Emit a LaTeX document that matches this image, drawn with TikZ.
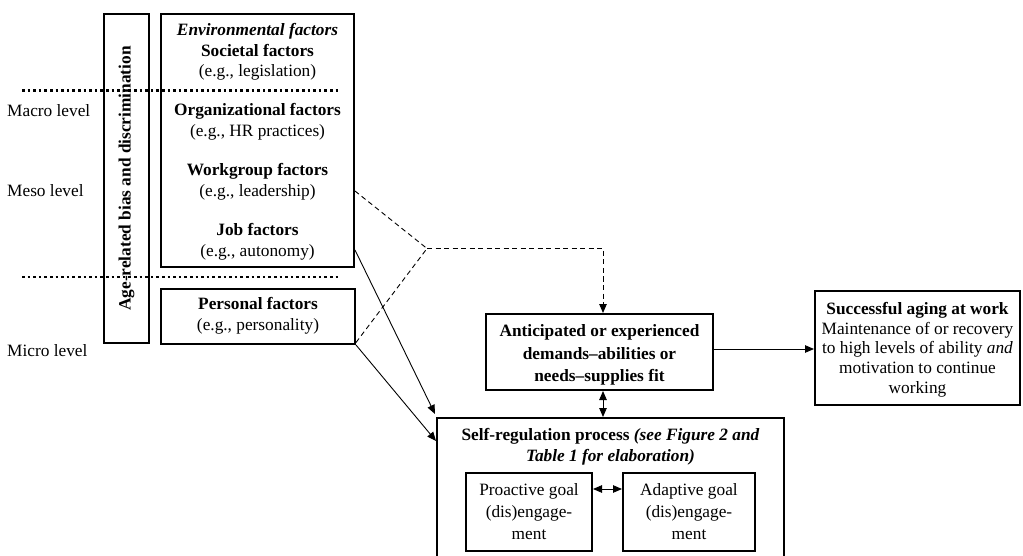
\documentclass[tikz,border=0pt]{standalone}
\usepackage{fontspec}
\setmainfont{Liberation Serif}
\usetikzlibrary{arrows.meta,calc}
\newcommand\myfs{\fontsize{17.3}{20.5}\selectfont}
\begin{document}
\begin{tikzpicture}[x=1pt,y=-1pt,
  box/.style={draw,line width=2pt,inner sep=0pt},
  txt/.style={align=center,font=\myfs,inner sep=0pt},
  lvl/.style={anchor=west,font=\myfs,inner sep=0pt},
  conn/.style={line width=0.9pt},
  tip/.style={-{Triangle[length=9pt,width=7.5pt]}},
  dtip/.style={{Triangle[length=9pt,width=7.5pt]}-{Triangle[length=9pt,width=7.5pt]}},
  dashline/.style={line width=0.9pt,dash pattern=on 5pt off 3.5pt},
  dotline/.style={line width=2.4pt,dash pattern=on 2.6pt off 3pt}
]
\useasboundingbox (0,0) rectangle (1023,556);

% boxes
\node[box,minimum width=45pt,minimum height=329pt] (age) at (126.5,178.5) {};
\node[txt,rotate=90,font=\myfs\bfseries] (agetext) at (age.center) {Age-related bias and discrimination};
\node[box,minimum width=193pt,minimum height=253pt] (env) at (257.5,140.5) {};
\node[box,minimum width=194pt,minimum height=55pt] (pers) at (258,316.5) {};
\node[box,minimum width=227pt,minimum height=76pt] (antic) at (599.5,352) {};
\node[box,minimum width=205pt,minimum height=114pt] (succ) at (917.5,348) {};
\node[box,minimum width=347pt,minimum height=160pt] (self) at (610.5,498) {};
\node[box,minimum width=126pt,minimum height=78pt] (pro) at (529,512) {};
\node[box,minimum width=132pt,minimum height=78pt] (ada) at (689,512) {};

% texts
\node[txt] (soc) at (257.5,52) {\textbf{\textit{Environmental factors}}\\\textbf{Societal factors}\\(e.g., legislation)};
\node[txt] (org) at (257.5,122) {\textbf{Organizational factors}\\(e.g., HR practices)};
\node[txt] (wg) at (257.5,182) {\textbf{Workgroup factors}\\(e.g., leadership)};
\node[txt] (job) at (257.5,242) {\textbf{Job factors}\\(e.g., autonomy)};
\node[txt] (perstext) at (258,316) {\textbf{Personal factors}\\(e.g., personality)};
\node[txt,font=\fontsize{17.3}{22.5}\selectfont\bfseries] (antictext) at (599.5,355) {Anticipated or experienced\\demands--abilities or\\needs--supplies fit};
\node[txt,font=\fontsize{17.3}{19.7}\selectfont] (succtext) at (917.5,349.5) {\textbf{Successful aging at work}\\Maintenance of or recovery\\to high levels of ability \textit{and}\\motivation to continue\\working};
\node[txt,font=\fontsize{17.3}{21}\selectfont\bfseries] (selftext) at (610.5,447) {Self-regulation process \textit{(see Figure 2 and}\\\textit{Table 1 for elaboration)}};
\node[txt,font=\fontsize{17.3}{22}\selectfont] (protext) at (pro.center) {Proactive goal\\(dis)engage-\\ment};
\node[txt,font=\fontsize{17.3}{22}\selectfont] (adatext) at (ada.center) {Adaptive goal\\(dis)engage-\\ment};

% level labels
\node[lvl] (macro) at (7,111) {Macro level};
\node[lvl] (meso) at (7,191) {Meso level};
\node[lvl] (micro) at (7,351) {Micro level};

% dotted level lines
\coordinate (d1a) at (22,90.5);
\coordinate (d1b) at (341,90.5);
\coordinate (d2a) at (22,277);
\coordinate (d2b) at (341,277);
\draw[dotline] (d1a) -- (d1b);
\draw[dotline] (d2a) -- (d2b);

% dashed connectors
\coordinate (J) at (427,248.5);
\draw[dashline] ([yshift=-50.5pt]env.east) -- (J);
\draw[dashline] ([yshift=2.5pt]pers.south east) -- (J);
\draw[dashline,tip] (J) -| ([xshift=3.5pt]antic.north);

% solid connectors
\draw[conn,tip] ([yshift=-109.5pt]env.east) -- ([shift={(-1pt,3pt)}]self.north west);
\draw[conn,tip] (pers.south east) -- ([yshift=-24pt]self.north west);
\draw[conn,tip] ([yshift=3pt]antic.east) -- ([yshift=3pt]antic.east -| succ.west);
\draw[conn,dtip] ([xshift=3.5pt]antic.south) -- ([xshift=3.5pt]antic.south |- self.north);
\draw[conn,dtip] ([yshift=23pt]pro.east) -- ([yshift=23pt]pro.east -| ada.west);
\end{tikzpicture}
\end{document}
